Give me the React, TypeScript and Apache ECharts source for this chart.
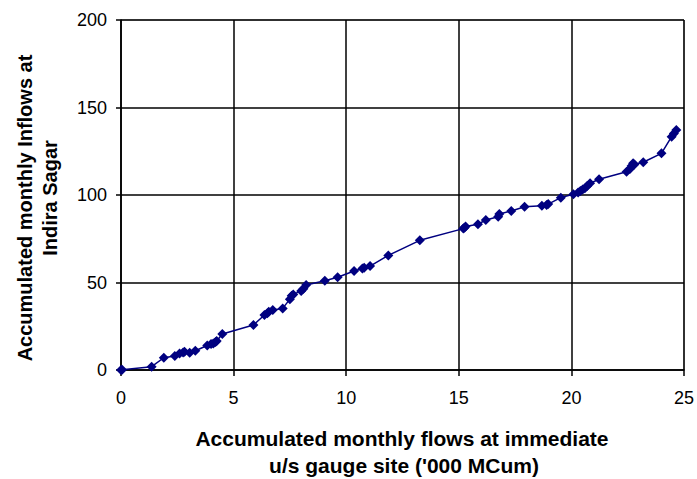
import React, { useEffect, useRef } from "react";
import * as echarts from "echarts";

const xValues = [0, 0.05, 1.36, 1.9, 2.39, 2.6, 2.76, 2.82, 3.05, 3.3, 3.83, 4.0, 4.1, 4.2, 4.25, 4.5, 5.88, 6.37, 6.5, 6.56, 6.74, 7.18, 7.5, 7.58, 7.65, 8.0, 8.1, 8.22, 9.05, 9.62, 10.35, 10.72, 10.8, 11.06, 11.87, 13.27, 15.2, 15.25, 15.3, 15.85, 16.2, 16.75, 16.8, 17.33, 17.92, 18.69, 18.9, 18.97, 19.53, 20.09, 20.3, 20.4, 20.5, 20.6, 20.7, 20.83, 21.23, 22.45, 22.6, 22.67, 22.74, 22.8, 23.19, 24.0, 24.45, 24.55, 24.66];
const yValues = [0, 0.2, 1.9, 7, 8, 9.5, 10, 10.5, 9.9, 11, 14, 14.8, 15.2, 16, 16.6, 20.6, 25.7, 31.4, 32.5, 33.3, 34.3, 35.2, 40.5, 42.5, 43.2, 45.2, 46.5, 48.6, 51, 53, 56.6, 58, 58.5, 59.4, 65.5, 74.1, 80.8, 81.3, 82, 83.3, 85.7, 87.6, 89.1, 90.9, 93.3, 93.9, 94.3, 94.8, 98.5, 100.4, 101.5, 102.3, 103.2, 103.8, 105.2, 106.7, 109, 113.3, 114.8, 116.6, 118.1, 117.5, 118.7, 123.8, 133.3, 135.2, 137.1];
const xTicks = [0, 5, 10, 15, 20, 25];
const yTicks = [0, 50, 100, 150, 200];

export default function App() {
  const ref = useRef<HTMLDivElement>(null);
  useEffect(() => {
    if (!ref.current) return;
    const chart = echarts.init(ref.current, undefined, { renderer: "svg" });
    const data = xValues.map((x, i) => [x, yValues[i]]);
    const font = "'Liberation Sans', Arial, sans-serif";
    chart.setOption({
      animation: false,
      backgroundColor: "#ffffff",
      grid: { left: 121, top: 20, right: 11, bottom: 109, containLabel: false, show: true, borderColor: "#808080", borderWidth: 1 },
      xAxis: {
        type: "value",
        min: xTicks[0],
        max: xTicks[xTicks.length - 1],
        interval: 5,
        axisLine: { show: true, onZero: false, lineStyle: { color: "#000", width: 1.5 } },
        axisTick: { show: true, inside: false, length: 6, lineStyle: { color: "#000", width: 1.5 } },
        axisLabel: { color: "#000", fontSize: 18, fontFamily: font, margin: 19 },
        splitLine: { show: true, lineStyle: { color: "#000", width: 1.5 } },
      },
      yAxis: {
        type: "value",
        min: yTicks[0],
        max: yTicks[yTicks.length - 1],
        interval: 50,
        axisLine: { show: true, onZero: false, lineStyle: { color: "#000", width: 1.5 } },
        axisTick: { show: true, inside: false, length: 5, lineStyle: { color: "#000", width: 1.5 } },
        axisLabel: { color: "#000", fontSize: 18, fontFamily: font, margin: 14 },
        splitLine: { show: true, lineStyle: { color: "#000", width: 1.5 } },
      },
      graphic: [
        {
          type: "text",
          x: 402,
          y: 438,
          style: {
            text: "Accumulated monthly flows at immediate",
            font: `bold 21px ${font}`,
            fill: "#000",
            align: "center",
            verticalAlign: "middle",
          },
        },
        {
          type: "text",
          x: 404,
          y: 465,
          style: {
            text: "u/s gauge site ('000 MCum)",
            font: `bold 21px ${font}`,
            fill: "#000",
            align: "center",
            verticalAlign: "middle",
          },
        },
        {
          type: "text",
          x: 25,
          y: 208,
          rotation: Math.PI / 2,
          style: {
            text: "Accumulated monthly Inflows at",
            font: `bold 20px ${font}`,
            fill: "#000",
            align: "center",
            verticalAlign: "middle",
          },
        },
        {
          type: "text",
          x: 50,
          y: 198,
          rotation: Math.PI / 2,
          style: {
            text: "Indira Sagar",
            font: `bold 20px ${font}`,
            fill: "#000",
            align: "center",
            verticalAlign: "middle",
          },
        },
      ],
      series: [
        {
          type: "line",
          data,
          symbol: "diamond",
          symbolSize: 10,
          showSymbol: true,
          lineStyle: { color: "#000080", width: 1.5 },
          itemStyle: { color: "#000080" },
          clip: false,
        },
      ],
    });
    return () => chart.dispose();
  }, []);
  return <div ref={ref} style={{ width: 697, height: 479, position: "absolute", left: 0, top: 0 }} />;
}
